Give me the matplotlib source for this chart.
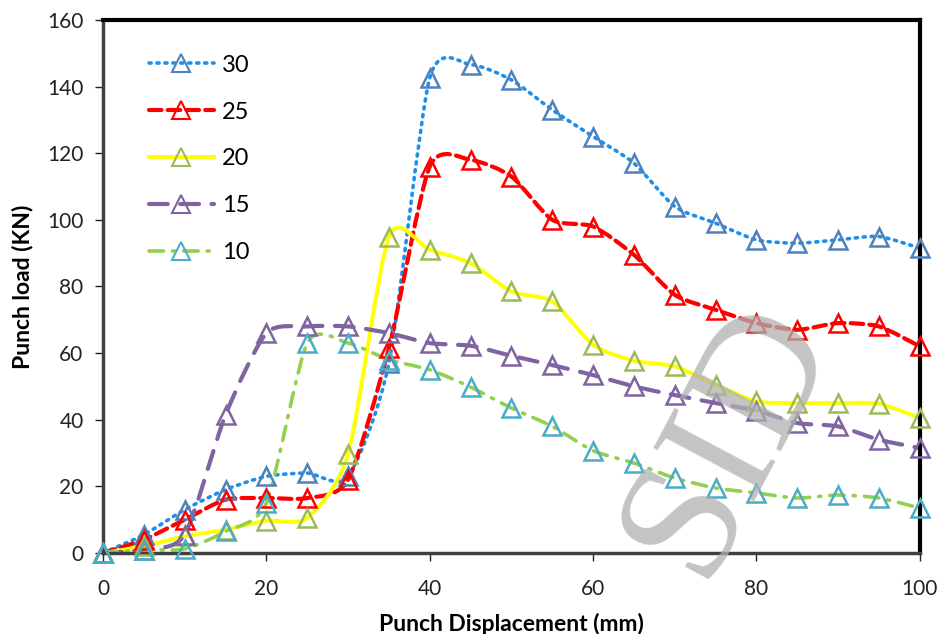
import numpy as np
import matplotlib.pyplot as plt
from matplotlib.path import Path
from matplotlib.patches import PathPatch
from matplotlib.lines import Line2D

plt.rcParams['font.family'] = ['Lato', 'DejaVu Sans']

disp = [0, 5, 10, 15, 20, 25, 30, 35, 40, 45, 50, 55, 60, 65, 70, 75, 80, 85, 90, 95, 100]

load_30 = [0, 5.5, 13, 19, 23, 24, 23, 57, 142.6, 146.6, 142, 133, 125, 117, 104, 99, 94, 93, 94, 95, 91.5]
load_25 = [0, 4, 10, 16, 16.5, 16.5, 22, 61.5, 116, 118, 113, 100, 98, 89.5, 77.5, 73, 69, 67, 69, 68, 62]
load_20 = [0, 2, 5, 7, 9.7, 10.5, 29.7, 95, 91, 87, 78.5, 75.5, 62.5, 57.7, 56, 50.5, 45.5, 45, 45, 44.8, 40.5]
load_15 = [0, 1, 5.5, 41.5, 66, 68, 68, 66, 63, 62.2, 59.2, 56.4, 53.4, 50, 47.4, 45, 42.7, 39, 38, 34, 31.5]
load_10 = [0, 1, 1.2, 6.5, 15, 63, 63, 58, 55, 49.8, 43.5, 38, 30.7, 27, 22.5, 19.5, 18, 16.5, 17.4, 16.5, 13.5]

labels = ['30', '25', '20', '15', '10']
series = [load_30, load_25, load_20, load_15, load_10]
line_colors = ['#1E8FEA', '#FF0000', '#FFFF00', '#8064A2', '#92D050']
marker_colors = ['#4F81BD', '#FF0000', '#9BBB59', '#8064A2', '#4BACC6']
styles = [(0, (0.6, 1.6)), (0, (3, 1.5)), '-', (0, (4.5, 3)), (0, (4, 2.5, 0.6, 2.5))]
widths = [2.6, 3.0, 2.8, 3.0, 2.6]


def smooth_path(x, y, k=0.12):
    # smoothed line like the spreadsheet one: cubic bezier through every point
    p = np.column_stack([x, y]).astype(float)
    n = len(p)
    verts = [p[0]]
    codes = [Path.MOVETO]
    for i in range(n - 1):
        p0 = p[i - 1] if i > 0 else p[i]
        p3 = p[i + 2] if i + 2 < n else p[i + 1]
        c1 = p[i] + (p[i + 1] - p0) * k
        c2 = p[i + 1] - (p3 - p[i]) * k
        verts += [c1, c2, p[i + 1]]
        codes += [Path.CURVE4] * 3
    return Path(verts, codes)


fig = plt.figure(figsize=(9.41, 6.34), dpi=100)
ax = fig.add_axes([0.1095, 0.1278, 0.868, 0.8407])

handles = []
for k in range(len(series)):
    patch = PathPatch(smooth_path(disp, series[k]), fill=False, edgecolor=line_colors[k],
                      linewidth=widths[k], linestyle=styles[k], capstyle='round', zorder=2)
    ax.add_patch(patch)
    ax.plot(disp, series[k], linestyle='none', marker='^', markersize=13,
            markerfacecolor='none', markeredgecolor=marker_colors[k],
            markeredgewidth=1.8, zorder=3, clip_on=False)
    handles.append(Line2D([], [], color=line_colors[k], linestyle=styles[k], linewidth=widths[k],
                          marker='^', markersize=13, markerfacecolor='none',
                          markeredgecolor=marker_colors[k], markeredgewidth=1.5,
                          dash_capstyle='round'))

ax.set_xlim(0, 100)
ax.set_ylim(0, 160)
ax.set_xticks(range(0, 101, 20))
ax.set_yticks(range(0, 161, 20))
ax.tick_params(labelsize=15, colors='#222222', length=6, width=1)
ax.tick_params(axis='x', pad=13)
ax.tick_params(axis='y', pad=8)
for s in ['left', 'bottom']:
    ax.spines[s].set_linewidth(2.5)
    ax.spines[s].set_color('#404040')
for s in ['right', 'top']:
    ax.spines[s].set_linewidth(3)
    ax.spines[s].set_color('black')

ax.set_xlabel('Punch Displacement (mm)', fontsize=16.5, fontweight='bold', labelpad=10)
ax.set_ylabel('Punch load (KN)', fontsize=16.5, fontweight='bold', labelpad=10)

leg = ax.legend(handles, labels, loc='upper left', bbox_to_anchor=(0.03, 0.975), frameon=False,
                fontsize=17, handlelength=2.75, labelspacing=1.1, handletextpad=0.35)

fig.text(0.775, 0.31, 'SID', fontsize=125, family='Liberation Serif', color='#b0b0b0',
         alpha=0.75, rotation=62, ha='center', va='center', zorder=10)

fig.savefig('out.png', dpi=100)
